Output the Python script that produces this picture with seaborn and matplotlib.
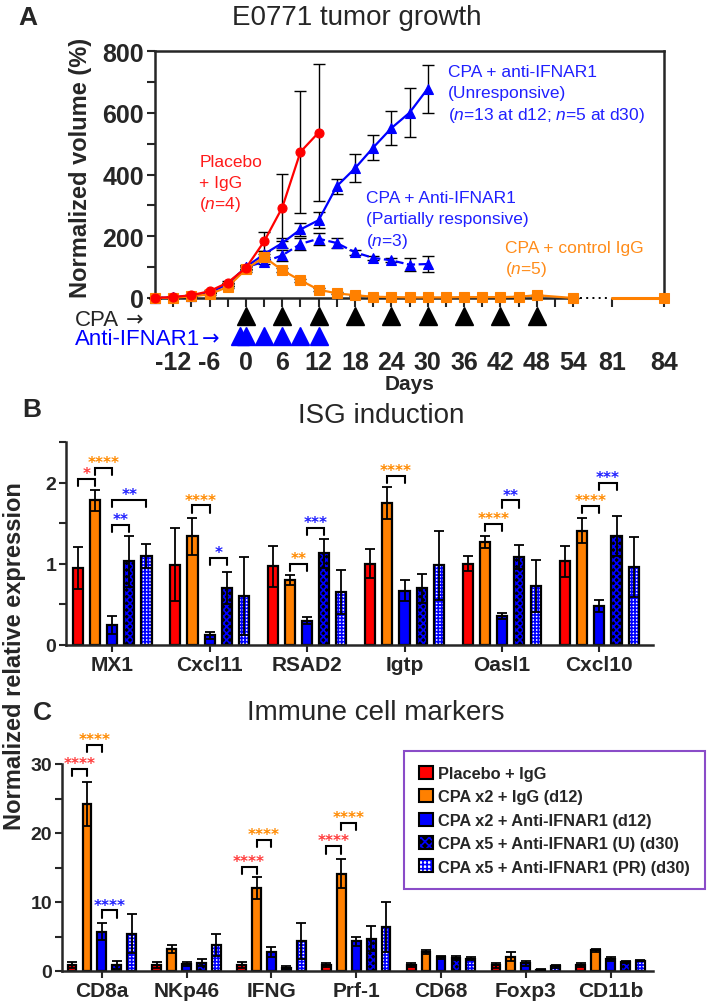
import numpy as np
import pandas as pd
import matplotlib
matplotlib.use("Agg")
import matplotlib.pyplot as plt
import matplotlib.transforms as mtransforms
from matplotlib.patches import Patch
from matplotlib.legend_handler import HandlerTuple
import seaborn as sns

# ---------------- Panel A data ----------------
red_days = [-15, -12, -9, -6, -3, 0, 3, 6, 9, 12]
red_vals = [0, 3, 9, 22, 50, 97, 183, 293, 473, 536]
red_err = [0, 1, 2, 3, 5, 6, 31, 108, 197, 222]

orange_days = [-15, -12, -9, -6, -3, 0, 3, 6, 9, 12, 15, 18, 21, 24, 27, 30,
               33, 36, 39, 42, 45, 48, 54]
orange_vals = [0, 1, 5, 12, 36, 93, 133, 90, 57, 27, 15, 9, 4, 3, 2, 2,
               2, 3, 3, 3, 4, 9, 0]
orange_err = [0, 1, 2, 3, 4, 8, 10, 6, 5, 4, 3, 2, 1, 1, 1, 1,
              1, 1, 1, 1, 1, 2, 0]
orange_late_days = [81, 84]
orange_late_vals = [0, 0]

blue_days = [-15, -12, -9, -6, -3, 0, 3, 6, 9, 12, 15, 18, 21, 24, 27, 30]
unresp_vals = [0, 2, 7, 18, 45, 100, 142, 178, 222, 252, 362, 420, 487, 550, 600, 678]
unresp_err = [0, 1, 2, 3, 5, 6, 10, 15, 20, 25, 25, 45, 40, 55, 80, 78]
partial_vals = [0, 2, 7, 18, 45, 100, 117, 138, 175, 192, 178, 148, 130, 122, 108, 110]
partial_err = [0, 1, 2, 3, 5, 6, 8, 18, 18, 20, 15, 8, 6, 6, 20, 25]

cpa_days = [0, 6, 12, 18, 24, 30, 36, 42, 48]
anti_ifnar_days = [-1, 0, 3, 6, 9, 12]
day_ticks = [-12, -6, 0, 6, 12, 18, 24, 30, 36, 42, 48, 54, 81, 84]
minor_days = [-9, -3, 3, 9, 15, 21, 27, 33, 39, 45, 51]
volume_ticks = [0, 200, 400, 600, 800]

# ---------------- Panel B / C data ----------------
groups = ["Placebo + IgG", "CPA x2 + IgG (d12)", "CPA x2 + Anti-IFNAR1 (d12)",
          "CPA x5 + Anti-IFNAR1 (U) (d30)", "CPA x5 + Anti-IFNAR1 (PR) (d30)"]

isg_genes = ["MX1", "Cxcl11", "RSAD2", "Igtp", "Oasl1", "Cxcl10"]
isg_vals = [
    [0.95, 0.99, 0.97, 1.00, 1.00, 1.03],
    [1.78, 1.34, 0.80, 1.75, 1.27, 1.41],
    [0.25, 0.12, 0.30, 0.67, 0.36, 0.48],
    [1.03, 0.70, 1.13, 0.70, 1.08, 1.34],
    [1.10, 0.60, 0.65, 0.98, 0.73, 0.96],
]
isg_err = [
    [0.26, 0.45, 0.25, 0.18, 0.09, 0.19],
    [0.13, 0.23, 0.06, 0.20, 0.07, 0.15],
    [0.11, 0.04, 0.04, 0.13, 0.04, 0.07],
    [0.31, 0.20, 0.18, 0.18, 0.15, 0.25],
    [0.15, 0.48, 0.27, 0.42, 0.32, 0.37],
]
# (gene index, group a, group b, bracket height, stars, colour key)
isg_sig = [
    (0, 0, 1, 2.05, "*", "red"), (0, 1, 2, 2.18, "****", "orange"),
    (0, 2, 4, 1.79, "**", "blue"), (0, 2, 3, 1.48, "**", "blue"),
    (1, 1, 2, 1.72, "****", "orange"), (1, 2, 3, 1.07, "*", "blue"),
    (2, 1, 2, 1.00, "**", "orange"), (2, 2, 3, 1.44, "***", "blue"),
    (3, 1, 2, 2.08, "****", "orange"),
    (4, 1, 2, 1.49, "****", "orange"), (4, 2, 3, 1.78, "**", "blue"),
    (5, 1, 2, 1.71, "****", "orange"), (5, 2, 3, 2.00, "***", "blue"),
]

imm_genes = ["CD8a", "NKp46", "IFNG", "Prf-1", "CD68", "Foxp3", "CD11b"]
imm_vals = [
    [0.9, 0.9, 0.9, 0.9, 0.9, 0.8, 0.9],
    [24.2, 3.2, 12.0, 14.1, 2.8, 2.1, 3.0],
    [5.7, 1.0, 2.8, 4.3, 2.0, 1.1, 1.7],
    [0.9, 1.2, 0.5, 4.7, 1.9, 0.2, 1.3],
    [5.4, 3.8, 4.3, 6.4, 1.8, 0.7, 1.5],
]
imm_err = [
    [0.4, 0.4, 0.4, 0.3, 0.3, 0.4, 0.3],
    [3.2, 0.6, 1.6, 2.1, 0.3, 0.7, 0.2],
    [1.2, 0.3, 0.7, 0.7, 0.2, 0.4, 0.3],
    [0.55, 0.5, 0.2, 1.8, 0.3, 0.1, 0.2],
    [2.8, 1.6, 2.6, 3.6, 0.2, 0.2, 0.1],
]
imm_sig = [
    (0, 0, 1, 29.3, "****", "red"), (0, 1, 2, 32.8, "****", "orange"),
    (0, 2, 3, 8.8, "****", "blue"),
    (2, 0, 1, 15.1, "****", "red"), (2, 1, 2, 19.0, "****", "orange"),
    (3, 0, 1, 18.1, "****", "red"), (3, 1, 2, 21.5, "****", "orange"),
]

# ---------------- styling ----------------
sns.set_style("ticks")
plt.rcParams["font.family"] = ["Liberation Sans", "DejaVu Sans"]
plt.rcParams["mathtext.fontset"] = "custom"
plt.rcParams["mathtext.rm"] = "Liberation Sans"
plt.rcParams["mathtext.it"] = "Liberation Sans:italic"
plt.rcParams["hatch.linewidth"] = 1.2

RED, ORANGE, BLUE = "#FF0000", "#FF8000", "#0000FF"
STAR_COL = {"red": "#FF3B3B", "orange": "#FF8A00", "blue": "#1F1FFF"}
TXT_RED, TXT_BLUE, TXT_ORANGE = "#FF1A1A", "#2020FF", "#FF8C1A"
bar_colors = [RED, ORANGE, BLUE, "#000000", "#FFFFFF"]
hatches = [None, None, None, "xxxxx", "+++++"]

W, H = 708, 1003
fig = plt.figure(figsize=(W / 100, H / 100), dpi=100)


def fx(px):
    return px / W


def fy(py):
    return 1 - py / H


def day_pos(d):
    # broken time axis: after day 54 the axis jumps to a short 81-84 segment
    if d <= 54:
        return d
    return 60.5 + (d - 81) * (69 - 60.5) / 3


# ================= Panel A =================
axA = fig.add_axes([fx(155), fy(299), (664 - 155) / W, (299 - 52) / H])
series = [
    (blue_days, partial_vals, partial_err, BLUE, "^", "--", 2),
    (blue_days, unresp_vals, unresp_err, BLUE, "^", "-", 2.1),
    (orange_days, orange_vals, orange_err, ORANGE, "s", "-", 3),
    (red_days, red_vals, red_err, RED, "o", "-", 4),
]
for d, v, e, c, m, ls, z in series:
    pos = [day_pos(x) for x in d]
    axA.errorbar(pos, v, yerr=e, fmt="none", ecolor="black", elinewidth=1.0,
                 capsize=4, capthick=1.0, zorder=1.5, clip_on=False)
    sns.lineplot(x=pos, y=v, ax=axA, color=c, marker=m, markersize=6.5 if m != "^" else 7,
                 markeredgecolor=c, markeredgewidth=0.8, linewidth=1.6, linestyle=ls,
                 errorbar=None, clip_on=False, zorder=z)
late_pos = [day_pos(x) for x in orange_late_days]
sns.lineplot(x=late_pos, y=orange_late_vals, ax=axA, color=ORANGE, marker="s",
             markersize=6.5, markeredgecolor=ORANGE, markevery=[1], linewidth=2.2,
             errorbar=None, clip_on=False, zorder=3)

axA.set_xlim(-15, 69)
axA.set_ylim(0, 800)
for s in axA.spines.values():
    s.set_linewidth(1.8)
axA.spines["bottom"].set_bounds(-15, 54)
# broken-axis decoration
axA.plot([55.2, 59.6], [0, 0], color="black", lw=1.4, ls=(0, (1, 2.2)), clip_on=False)
axA.plot([60.5, 69], [0, 0], color="black", lw=1.8, clip_on=False, zorder=2.5)

axA.set_xticks([day_pos(d) for d in day_ticks])
axA.set_xticklabels([str(d) for d in day_ticks])
axA.set_xticks(minor_days, minor=True)
axA.set_yticks(volume_ticks)
axA.set_yticklabels([str(v) for v in volume_ticks])
axA.set_yticks([100, 300, 500, 700], minor=True)
axA.tick_params(axis="x", which="both", length=6.5, width=1.5, direction="out")
axA.tick_params(axis="x", which="major", pad=31, labelsize=18)
axA.tick_params(axis="y", which="both", length=6, width=1.5, direction="out", pad=2,
                labelsize=18)
for lab in axA.get_xticklabels() + axA.get_yticklabels():
    lab.set_fontweight("bold")
axA.set_xlabel("")
axA.set_ylabel("")
axA.text(0.5, (299 - 385) / 247, "Days", transform=axA.transAxes, ha="center",
         va="center", fontsize=15, fontweight="bold")

# treatment schedule rows
trans = mtransforms.blended_transform_factory(axA.transData, axA.transAxes)
axA.plot(cpa_days, [(299 - 317) / 247] * len(cpa_days), "^", color="black",
         markersize=13.5, transform=trans, clip_on=False, zorder=5)
axA.plot(anti_ifnar_days, [(299 - 337) / 247] * len(anti_ifnar_days), "^", color=BLUE,
         markersize=12.5, transform=trans, clip_on=False, zorder=5)
fig.text(fx(75), fy(326), "CPA", ha="left", va="baseline", fontsize=16)
fig.text(fx(126), fy(326), "\u2192", ha="left", va="baseline", fontsize=15,
         family="DejaVu Sans")
fig.text(fx(75), fy(345), "Anti-IFNAR1", ha="left", va="baseline", fontsize=16,
         color=BLUE)
fig.text(fx(202), fy(345), "\u2192", ha="left", va="baseline", fontsize=15,
         color=BLUE, family="DejaVu Sans")

# group annotations
ann = [
    (-7.7, [(428, "Placebo"), (360, "+ IgG"), (292, "($\\it{n}$=4)")], TXT_RED),
    (33.3, [(719, "CPA + anti-IFNAR1"), (651, "(Unresponsive)"),
            (580, "($\\it{n}$=13 at d12; $\\it{n}$=5 at d30)")], TXT_BLUE),
    (19.9, [(311, "CPA + Anti-IFNAR1"), (243, "(Partially responsive)"),
            (172, "($\\it{n}$=3)")], TXT_BLUE),
    (42.8, [(149, "CPA + control IgG"), (81, "($\\it{n}$=5)")], TXT_ORANGE),
]
for x0, lines, col in ann:
    for yv, t in lines:
        axA.text(x0, yv, t, color=col, fontsize=12.5, ha="left", va="baseline")

fig.text(fx(28), fy(25), "A", fontsize=19, fontweight="bold", ha="center", va="baseline")
fig.text(fx(357), fy(25), "E0771 tumor growth", fontsize=20, ha="center", va="baseline")
fig.text(fx(81), fy(168), "Normalized volume (%)", rotation=90, fontsize=17,
         fontweight="bold", ha="center", va="center")


# ================= Panels B & C =================
def bar_panel(ax, genes, vals, errs, sig, ylim, yticks, yminor, leg, xlim):
    rows = []
    for g, gv in zip(groups, vals):
        for gene, v in zip(genes, gv):
            rows.append((gene, g, v))
    df = pd.DataFrame(rows, columns=["gene", "group", "value"])
    sns.barplot(data=df, x="gene", y="value", hue="group", order=genes, hue_order=groups,
                palette=bar_colors, saturation=1, width=0.88, gap=0.41,
                edgecolor="black", linewidth=1.6, errorbar=None, legend=False, ax=ax)
    centers = {}
    for gi, cont in enumerate(ax.containers[:len(groups)]):
        xs, hs, ws = [], [], []
        for p in cont:
            xc = p.get_x() + p.get_width() / 2
            xs.append(xc)
            hs.append(p.get_height())
            ws.append(p.get_width())
            centers[(int(round(xc)), gi)] = xc
        ei = [errs[gi][int(round(x))] for x in xs]
        if hatches[gi]:
            for p in cont:
                p.set_edgecolor(BLUE)
                p.set_linewidth(0)
                p.set_hatch(hatches[gi])
            ax.bar(xs, hs, width=ws[0], fill=False, edgecolor="black", linewidth=1.6,
                   zorder=cont[0].get_zorder() + 0.1)
        ax.errorbar(xs, hs, yerr=ei, fmt="none", ecolor="black", elinewidth=1.3,
                    capsize=3.5, capthick=1.3, zorder=3)
    for gene_i, ga, gb, yb, stars, ck in sig:
        x1, x2 = centers[(gene_i, ga)], centers[(gene_i, gb)]
        ax.plot([x1, x1, x2, x2], [yb - leg, yb, yb, yb - leg], color="black", lw=1.5,
                clip_on=False, solid_joinstyle="miter")
        ax.annotate(stars, xy=((x1 + x2) / 2, yb), xytext=(0, 0.5),
                    textcoords="offset points", ha="center", va="baseline",
                    color=STAR_COL[ck], fontsize=11, fontweight="bold",
                    family="DejaVu Sans", annotation_clip=False)
    ax.set_xlim(*xlim)
    ax.set_ylim(*ylim)
    ax.set_yticks(yticks)
    ax.set_yticks(yminor, minor=True)
    sns.despine(ax=ax)
    for s in ("left", "bottom"):
        ax.spines[s].set_linewidth(1.8)
    ax.tick_params(axis="both", which="both", length=5, width=1.5, direction="out")
    ax.tick_params(axis="y", labelsize=14, pad=2)
    ax.tick_params(axis="x", labelsize=15, pad=2)
    for lab in ax.get_xticklabels() + ax.get_yticklabels():
        lab.set_fontweight("bold")
    ax.set_xlabel("")
    ax.set_ylabel("")


axB = fig.add_axes([fx(66), fy(646), (653 - 66) / W, (646 - 443) / H])
bar_panel(axB, isg_genes, isg_vals, isg_err, isg_sig, (0, 2.5), [0, 1, 2],
          [0.5, 1.5, 2.5], 0.09, (-0.474, 5.55))
axB.set_yticklabels(["0", "1", "2"])

axC = fig.add_axes([fx(62), fy(972), (653 - 62) / W, (972 - 765) / H])
bar_panel(axC, imm_genes, imm_vals, imm_err, imm_sig, (0, 30), [0, 10, 20, 30],
          [5, 15, 25], 1.1, (-0.47, 6.5))

fig.text(fx(32), fy(417), "B", fontsize=19, fontweight="bold", ha="center", va="baseline")
fig.text(fx(381), fy(423), "ISG induction", fontsize=20, ha="center", va="baseline")
fig.text(fx(42), fy(720), "C", fontsize=19, fontweight="bold", ha="center", va="baseline")
fig.text(fx(376), fy(720), "Immune cell markers", fontsize=20, ha="center", va="baseline")
fig.text(fx(15), fy(656), "Normalized relative expression", rotation=90, fontsize=17,
         fontweight="bold", ha="center", va="center")

# legend
outline = Patch(fill=False, edgecolor="black", linewidth=1.5)
handles = [
    Patch(facecolor=RED, edgecolor="black", linewidth=1.5),
    Patch(facecolor=ORANGE, edgecolor="black", linewidth=1.5),
    Patch(facecolor=BLUE, edgecolor="black", linewidth=1.5),
    (Patch(facecolor="black", edgecolor=BLUE, hatch="xxxx", linewidth=0), outline),
    (Patch(facecolor="white", edgecolor=BLUE, hatch="++++", linewidth=0), outline),
]
leg = axC.legend(handles, groups, handler_map={tuple: HandlerTuple(ndivide=1, pad=0)},
                 loc="upper left", bbox_to_anchor=(fx(404), fy(752)),
                 bbox_transform=fig.transFigure, frameon=True, fancybox=False,
                 framealpha=1, edgecolor="#8A4CC8", handlelength=0.85, handleheight=0.85,
                 handletextpad=0.35, borderpad=0.9, labelspacing=0.5, borderaxespad=0,
                 prop={"size": 11.8, "weight": "bold"})
leg.get_frame().set_linewidth(1.5)

fig.savefig("out.png", dpi=100)
